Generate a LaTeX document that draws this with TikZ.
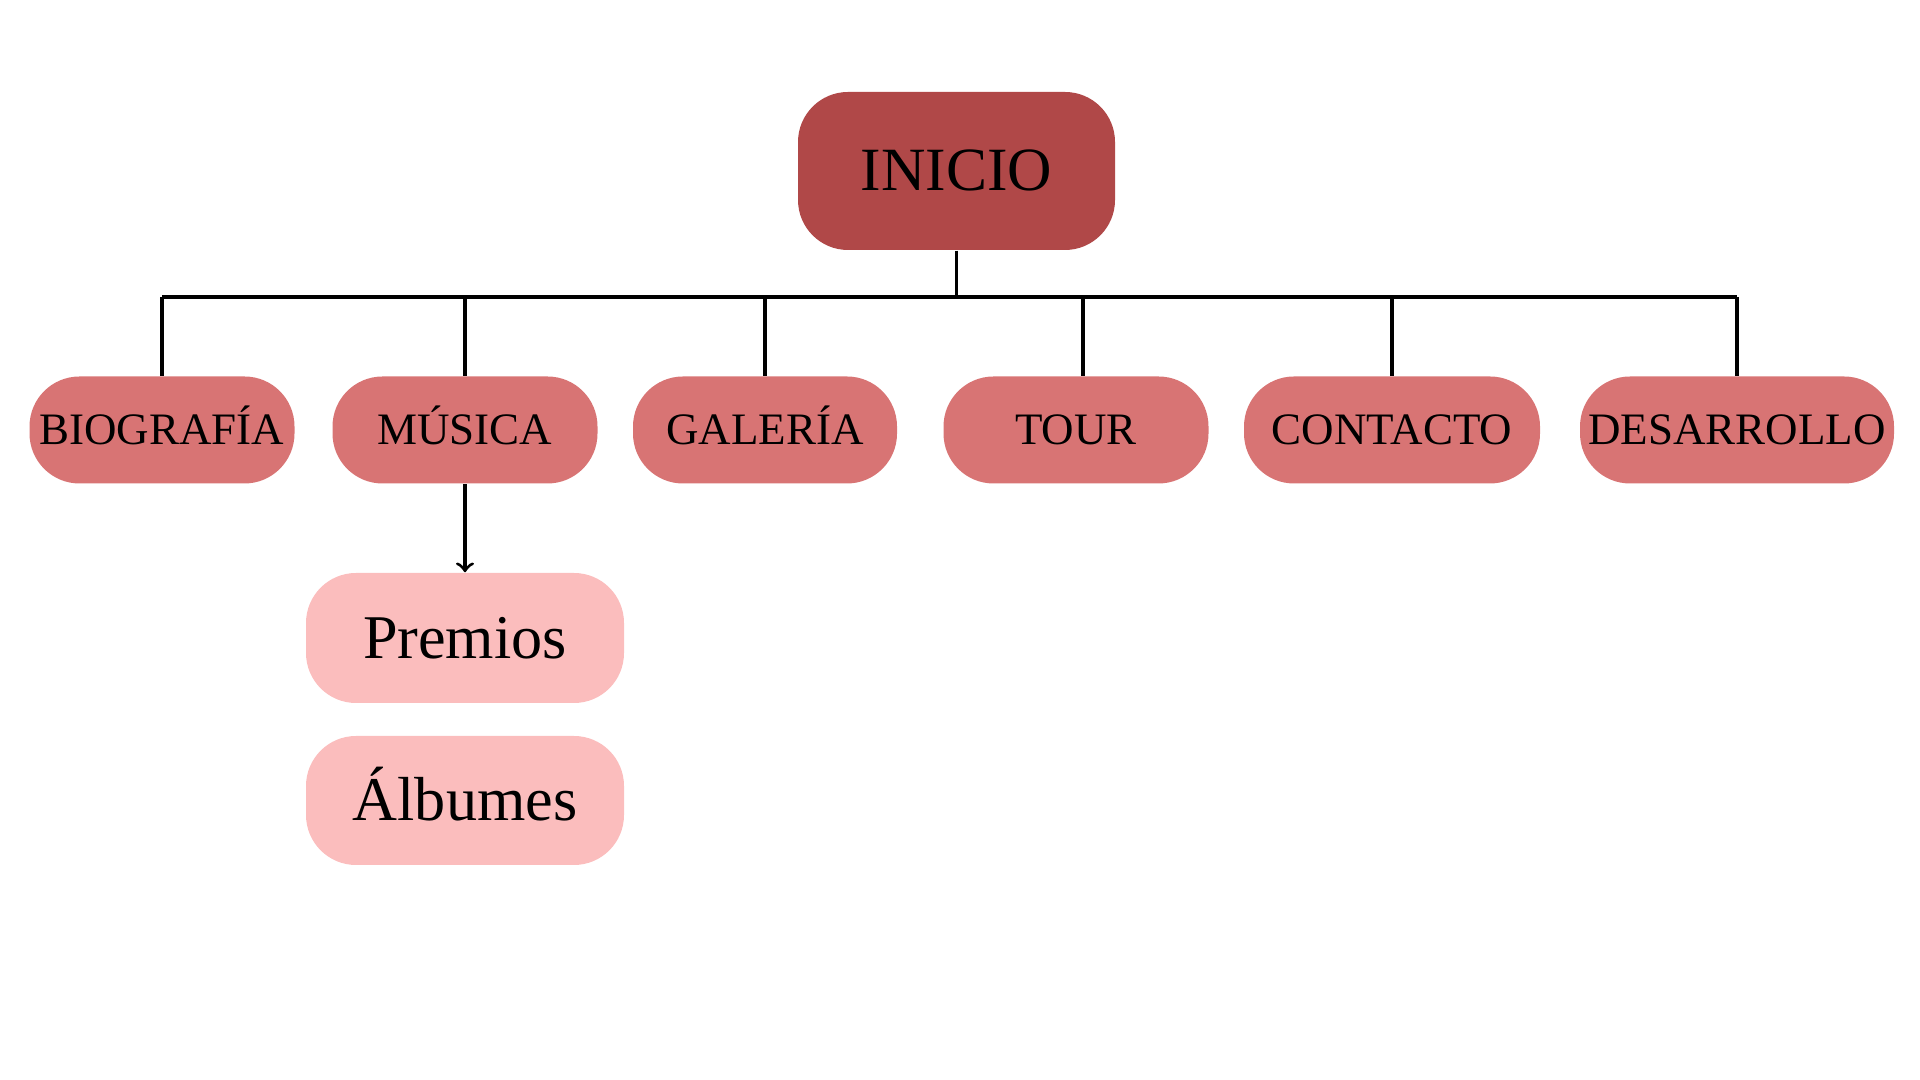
\documentclass[tikz,border=0pt]{standalone}
\usepackage{fontspec}
\setmainfont{Liberation Serif}
\usepackage{xcolor}
\definecolor{rojoinicio}{RGB}{176,72,72}
\definecolor{rojoseccion}{RGB}{216,116,116}
\definecolor{rosasub}{RGB}{251,189,189}

\begin{document}
\begin{tikzpicture}[inicio/.style={fill=rojoinicio,rounded corners=0.5cm,minimum width=3.17cm,minimum height=1.58cm,inner sep=0pt,text height=0.4cm,text depth=0pt,font=\fontsize{17.5}{20}\selectfont},
	seccion/.style={fill=rojoseccion,rounded corners=0.5cm,minimum height=1.07cm,inner sep=0pt,text height=0.3cm,text depth=0pt,font=\fontsize{12.8}{15}\selectfont},
	subseccion/.style={fill=rosasub,rounded corners=0.5cm,minimum width=3.18cm,minimum height=1.3cm,inner sep=0pt,text height=0.41cm,text depth=0pt,font=\fontsize{17.7}{20}\selectfont},
	linea/.style={color=black,line width=0.9pt}]
	\useasboundingbox (0,0) rectangle (19.2,10.8);
	\node[inicio] (inicio) at (9.565,9.09) {INICIO};
	\node[seccion,minimum width=2.65cm] (biografia) at (1.62,6.5) {BIOGRAFÍA};
	\node[seccion,minimum width=2.65cm] (musica) at (4.65,6.5) {MÚSICA};
	\node[seccion,minimum width=2.64cm] (galeria) at (7.65,6.5) {GALERÍA};
	\node[seccion,minimum width=2.65cm] (tour) at (10.76,6.5) {TOUR};
	\node[seccion,minimum width=2.96cm] (contacto) at (13.92,6.5) {CONTACTO};
	\node[seccion,minimum width=3.14cm] (desarrollo) at (17.37,6.5) {DESARROLLO};
	\node[subseccion] (premios) at (4.65,4.42) {Premios};
	\node[subseccion,minimum height=1.29cm] (albumes) at (4.65,2.795) {Álbumes};
	\coordinate (bus) at (9.565,7.83);
	\draw[linea] (inicio.south) -- (inicio.south |- bus);
	\draw[linea] (biografia.north |- bus) -- (desarrollo.north |- bus);
	\draw[linea] (biografia.north) -- (biografia.north |- bus);
	\draw[linea] (musica.north) -- (musica.north |- bus);
	\draw[linea] (galeria.north) -- (galeria.north |- bus);
	\draw[linea] ([xshift=0.07cm]tour.north) -- ([xshift=0.07cm]tour.north |- bus);
	\draw[linea] (contacto.north) -- (contacto.north |- bus);
	\draw[linea] (desarrollo.north) -- (desarrollo.north |- bus);
	\draw[linea,->] (musica.south) -- (premios.north);
\end{tikzpicture}
\end{document}
